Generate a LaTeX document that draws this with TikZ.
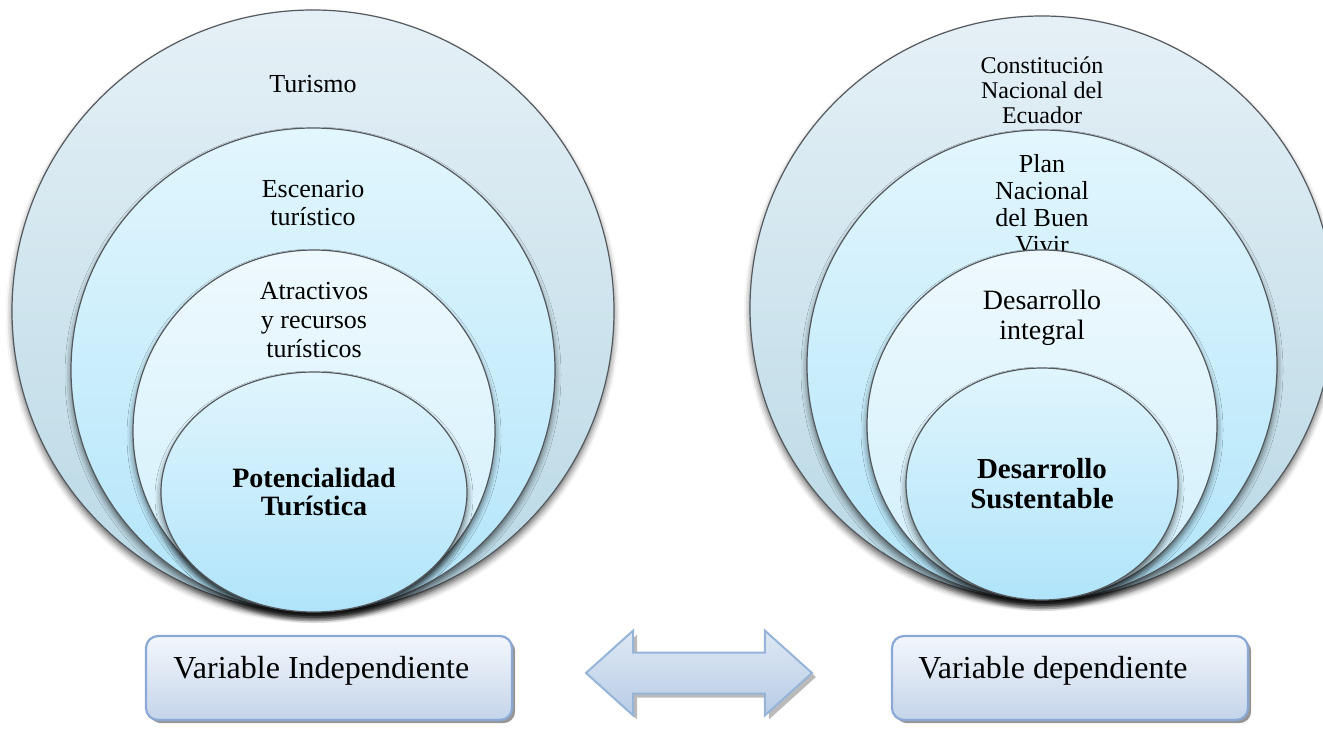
\documentclass[tikz,border=0pt]{standalone}
\usepackage{fontspec}
\setmainfont{Liberation Serif}
\usetikzlibrary{shapes.geometric,shapes.arrows,shadows,shadows.blur}
\definecolor{ringline}{RGB}{85,90,95}
\definecolor{aTop}{RGB}{229,240,246}
\definecolor{aBot}{RGB}{184,216,229}
\definecolor{bTop}{RGB}{226,246,253}
\definecolor{bBot}{RGB}{178,229,250}
\definecolor{cTop}{RGB}{238,249,254}
\definecolor{cBot}{RGB}{208,239,251}
\definecolor{dTop}{RGB}{224,245,253}
\definecolor{dBot}{RGB}{176,228,250}
\definecolor{boxline}{RGB}{139,169,212}
\definecolor{boxTop}{RGB}{243,247,252}
\definecolor{boxBot}{RGB}{196,212,234}
\definecolor{arrTop}{RGB}{222,232,244}
\definecolor{arrBot}{RGB}{184,204,230}
\definecolor{arrline}{RGB}{150,180,216}
\begin{document}
\begin{tikzpicture}[x=0.5pt,y=-0.5pt,
  ring/.style={ellipse, draw=ringline, line width=0.6pt, inner sep=0pt,
    blur shadow={shadow xshift=0pt, shadow yshift=-2.5pt, shadow blur radius=3pt, shadow opacity=60}},
  ringA/.style={ring, top color=aTop, bottom color=aBot},
  ringB/.style={ring, top color=bTop, bottom color=bBot},
  ringC/.style={ring, top color=cTop, bottom color=cBot},
  ringD/.style={ring, top color=dTop, bottom color=dBot},
  lbl/.style={align=center, inner sep=0pt, text=black},
  varbox/.style={rectangle, rounded corners=6pt, draw=boxline, line width=1.1pt,
    top color=boxTop, bottom color=boxBot, inner sep=0pt,
    drop shadow={shadow xshift=1.6pt, shadow yshift=-1.6pt, fill=black!55, opacity=0.75}},
  boxtext/.style={anchor=west, inner sep=0pt, font=\fontsize{16}{18}\selectfont}
]
\useasboundingbox (0,0) rectangle (1323,729);
% ---------- left diagram ----------
\node[ringA, minimum width=301pt, minimum height=301pt] (L1) at (313,311) {};
\node[lbl, font=\fontsize{13}{14}\selectfont] (tL1) at (313,84) {Turismo};
\node[ringB, minimum width=242pt, minimum height=242pt] (L2) at (313,370) {};
\node[lbl, font=\fontsize{13}{14}\selectfont] (tL2) at (313,203) {Escenario\\turístico};
\node[ringC, minimum width=181pt, minimum height=181pt] (L3) at (314,431) {};
\node[lbl, font=\fontsize{13}{14.3}\selectfont] (tL3) at (314,320) {Atractivos\\y recursos\\turísticos};
\node[ringD, minimum width=153pt, minimum height=120pt] (L4) at (314,492) {};
\node[lbl, font=\fontsize{14}{14}\selectfont\bfseries] (tL4) at (314,492) {Potencialidad\\Turística};
% ---------- right diagram ----------
\node[ringA, minimum width=292pt, minimum height=292pt] (R1) at (1042,308) {};
\node[lbl, font=\fontsize{12}{12.5}\selectfont] (tR1) at (1042,90) {Constitución\\Nacional del\\Ecuador};
\node[ringB, minimum width=235pt, minimum height=235pt] (R2) at (1042,365) {};
\node[lbl, font=\fontsize{13}{13.5}\selectfont] (tR2) at (1042,204) {Plan\\Nacional\\del Buen\\Vivir};
\node[ringC, minimum width=175pt, minimum height=175pt] (R3) at (1042,425) {};
\node[lbl, font=\fontsize{14}{15}\selectfont] (tR3) at (1042,318) {Desarrollo\\integral};
\node[ringD, minimum width=136pt, minimum height=116pt] (R4) at (1042,484) {};
\node[lbl, font=\fontsize{14.5}{15}\selectfont\bfseries] (tR4) at (1042,484) {Desarrollo\\Sustentable};
% ---------- bottom boxes ----------
\node[varbox, minimum width=183pt, minimum height=42pt] (VI) at (329,678) {};
\node[boxtext] (tVI) at (173,671) {Variable Independiente};
\node[varbox, minimum width=178pt, minimum height=42pt] (VD) at (1070,678) {};
\node[boxtext] (tVD) at (918,671) {Variable dependiente};
% ---------- double arrow ----------
\node[double arrow, draw=arrline, line width=1pt, top color=arrTop, bottom color=arrBot,
  minimum height=113pt, inner xsep=0pt, inner ysep=9.75pt, double arrow head extend=11pt,
  double arrow tip angle=84,
  drop shadow={shadow xshift=2pt, shadow yshift=-2pt, fill=black!45, opacity=0.6}] (AR) at (699,673) {};
\end{tikzpicture}
\end{document}
